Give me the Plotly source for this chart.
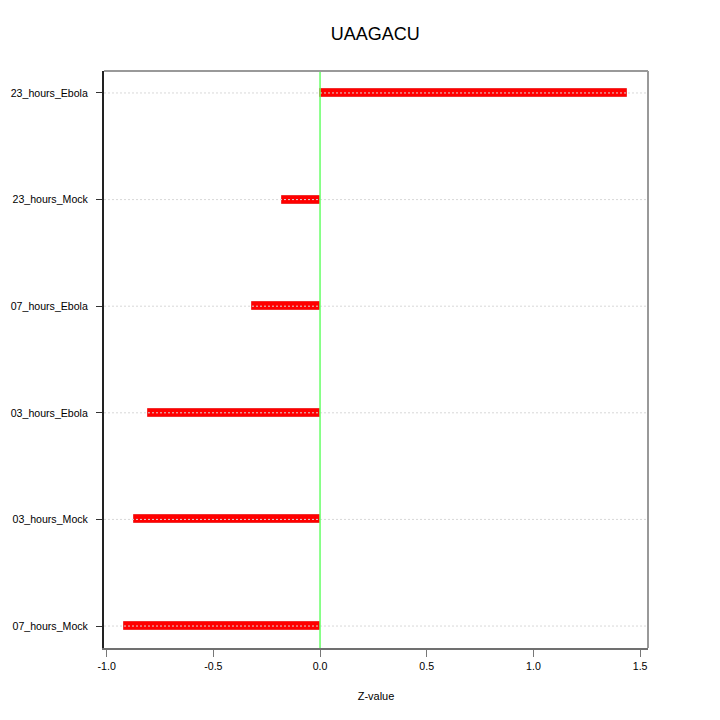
import plotly.graph_objects as go

# data
categories = ['07_hours_Mock', '03_hours_Mock', '03_hours_Ebola',
              '07_hours_Ebola', '23_hours_Mock', '23_hours_Ebola']
z_values = [-0.919, -0.872, -0.806, -0.319, -0.178, 1.439]
x_ticks = [-1.0, -0.5, 0.0, 0.5, 1.0, 1.5]
x_tick_labels = ['-1.0', '-0.5', '0.0', '0.5', '1.0', '1.5']

x_range = [-1.0125, 1.537]
y_range = [-0.206, 5.206]

fig = go.Figure()

fig.add_trace(go.Bar(
    x=z_values,
    y=list(range(len(categories))),
    orientation='h',
    width=0.075,
    marker=dict(color='#ff0000', line=dict(color='#f03030', width=1)),
    showlegend=False,
))

shapes = []
# dotted gridlines drawn over the bars
for i in range(len(categories)):
    shapes.append(dict(type='line', xref='paper', yref='y', x0=0, x1=1, y0=i, y1=i,
                       line=dict(color='#d8d8d8', width=1, dash='2px,2px'), layer='above'))
# zero line
shapes.append(dict(type='line', xref='x', yref='paper', x0=0, x1=0, y0=0, y1=1,
                   line=dict(color='#66ff66', width=1.5), layer='above'))
# frame: top and right gray
shapes.append(dict(type='line', xref='paper', yref='paper', x0=0, x1=1, y0=1, y1=1,
                   line=dict(color='#999999', width=2), layer='above'))
shapes.append(dict(type='line', xref='paper', yref='paper', x0=1, x1=1, y0=0, y1=1,
                   line=dict(color='#999999', width=2), layer='above'))

# the page body has an 8px margin, so the margins are shifted by that amount
fig.update_layout(
    width=720, height=720,
    margin=dict(l=96, r=80, t=63, b=80),
    plot_bgcolor='white',
    paper_bgcolor='white',
    font=dict(family='Liberation Sans, Arial, sans-serif', color='black', size=10.6),
    title=dict(text='UAAGACU', x=0.51, xanchor='center', y=0.964, yanchor='middle',
               font=dict(size=18, color='black')),
    bargap=0,
    shapes=shapes,
    xaxis=dict(
        range=x_range,
        tickvals=x_ticks, ticktext=x_tick_labels,
        showgrid=False, zeroline=False, automargin=False,
        showline=True, linecolor='#707070', linewidth=2,
        ticks='outside', ticklen=7, tickcolor='#777777', tickwidth=1,
        title=dict(text='Z-value', font=dict(size=11), standoff=22),
    ),
    yaxis=dict(
        range=y_range,
        tickvals=list(range(len(categories))), ticktext=categories,
        showgrid=False, zeroline=False, automargin=False,
        showline=True, linecolor='#222222', linewidth=2,
        ticks='outside', ticklen=6, tickcolor='#333333', tickwidth=1,
        ticklabelstandoff=6,
    ),
)

fig.write_html("out.html")
